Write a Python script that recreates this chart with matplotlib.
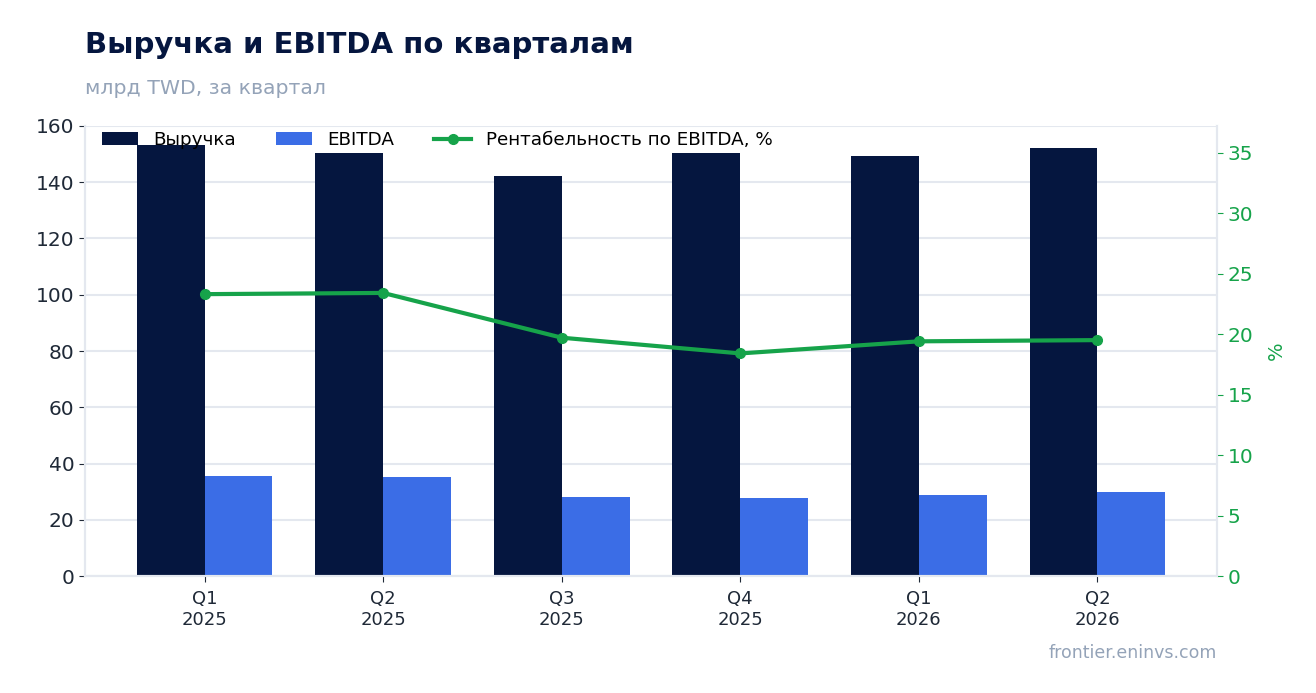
import numpy as np
import matplotlib
matplotlib.use('Agg')
import matplotlib.pyplot as plt

# Данные
quarters = ['Q1\n2025', 'Q2\n2025', 'Q3\n2025', 'Q4\n2025', 'Q1\n2026', 'Q2\n2026']
revenue = [153.2, 150.4, 142.2, 150.4, 149.3, 152.2]
ebitda = [35.6, 35.2, 28.1, 27.7, 28.8, 29.9]
margin = [23.3, 23.4, 19.7, 18.4, 19.4, 19.5]

navy = '#05163f'
blue = '#3b6de6'
green = '#16a34a'
grid_c = '#e4e8ef'

plt.rcParams['font.family'] = ['DejaVu Sans']

fig = plt.figure(figsize=(13.16, 6.93), dpi=100)
ax = fig.add_axes([0.0646, 0.1688, 0.8602, 0.6494])
ax2 = ax.twinx()

x = np.arange(len(quarters))
w = 0.38
ax.bar(x - w / 2, revenue, w, color=navy, label='Выручка', zorder=2)
ax.bar(x + w / 2, ebitda, w, color=blue, label='EBITDA', zorder=2)
ax2.plot(x, margin, color=green, lw=3, marker='o', ms=7,
         label='Рентабельность по EBITDA, %', zorder=3)

ax.set_xlim(-0.67, len(quarters) - 1 + 0.67)
ax.set_ylim(0, 160)
ax2.set_ylim(0, 37.2)
ax.set_yticks(range(0, 161, 20))
ax2.set_yticks(range(0, 36, 5))
ax.set_xticks(x)
ax.set_xticklabels(quarters)

ax.grid(axis='y', color=grid_c, lw=1.5, zorder=0)
ax.set_axisbelow(True)

for a in (ax, ax2):
    a.spines['top'].set_visible(False)
    for s in ('left', 'right', 'bottom'):
        a.spines[s].set_color(grid_c)
        a.spines[s].set_linewidth(1.5)

ax.tick_params(axis='y', labelsize=14.5, colors='#1f2937', length=4)
ax.tick_params(axis='x', labelsize=13, colors='#1f2937', length=4, pad=6)
ax2.tick_params(axis='y', labelsize=14.5, colors=green, length=4)
ax2.set_ylabel('%', color=green, fontsize=14, labelpad=10)

h1, l1 = ax.get_legend_handles_labels()
h2, l2 = ax2.get_legend_handles_labels()
leg = ax2.legend(h1 + h2, l1 + l2, loc='upper left', ncol=3, frameon=False,
                 fontsize=13.2, bbox_to_anchor=(0.0, 1.025), columnspacing=2.2)

fig.text(0.0646, 0.935, 'Выручка и EBITDA по кварталам', fontsize=21,
         fontweight='bold', color=navy, ha='left', va='center')
fig.text(0.0646, 0.872, 'млрд TWD, за квартал', fontsize=14.7,
         color='#94a3b8', ha='left', va='center')
fig.text(0.9248, 0.058, 'frontier.eninvs.com', fontsize=12.5,
         color='#94a3b8', ha='right', va='center')

fig.savefig('out.png', dpi=100)
